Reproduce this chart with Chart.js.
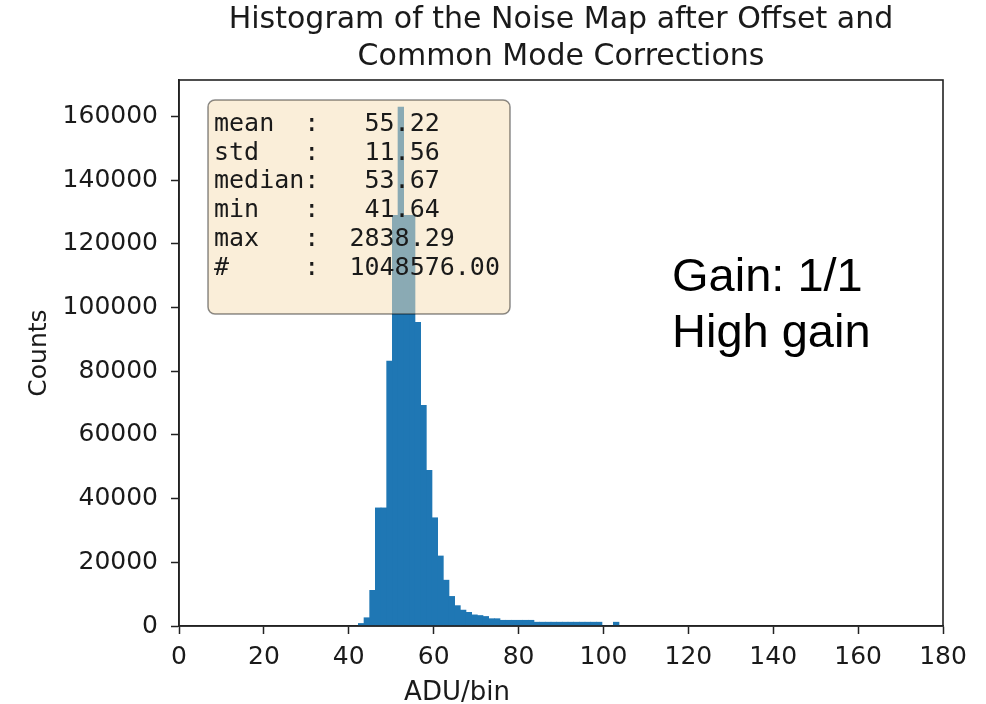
<!DOCTYPE html>
<html lang="en">

<head>
  <meta charset="UTF-8" />
  <title>Noise Map Histogram</title>
  <script src="https://cdn.jsdelivr.net/npm/chart.js"></script>
  <style>
    body {
      margin: 0;
      background: #fff;
    }

    .chart-wrapper {
      width: 986px;
      height: 704px;
    }
  </style>
</head>

<body>
  <div class="chart-wrapper"><canvas id="hist"></canvas></div>

  <script>
    // bin centres (ADU) and counts
    const binCenters = [
      42.92, 44.255, 45.59, 46.925, 48.26, 49.595, 50.93, 52.265, 53.6, 54.935,
      56.27, 57.605, 58.94, 60.275, 61.61, 62.945, 64.28, 65.615, 66.95, 68.285,
      69.62, 70.955, 72.29, 73.625, 74.96, 76.295, 77.63, 78.965, 80.3, 81.635,
      82.97, 84.305, 85.64, 86.975, 88.31, 89.645, 90.98, 92.315, 93.65, 94.985,
      96.32, 97.655, 98.99, 100.325, 101.66, 102.995
    ];
    const binCounts = [
      800, 2600, 11200, 37100, 37100, 83200, 129000, 163000, 129000, 129000,
      95400, 69300, 48900, 34000, 22000, 14400, 9300, 6400, 5000, 4300,
      3500, 3300, 3000, 2300, 2300, 1800, 1800, 1800, 1800, 1800,
      1800, 1200, 1200, 1200, 1200, 1200, 1200, 1200, 1200, 1200,
      1200, 1200, 1200, 0, 0, 1200
    ];
    const xTicks = [0, 20, 40, 60, 80, 100, 120, 140, 160, 180];
    const yTicks = [0, 20000, 40000, 60000, 80000, 100000, 120000, 140000, 160000];
    const titleLines = ["Histogram of the Noise Map after Offset and", "Common Mode Corrections"];
    const statLines = [
      "mean  :   55.22",
      "std   :   11.56",
      "median:   53.67",
      "min   :   41.64",
      "max   :  2838.29",
      "#     :  1048576.00"
    ];
    const gainLines = ["Gain: 1/1", "High gain"];
    const xLabel = "ADU/bin";
    const yLabel = "Counts";

    const textColor = "#1a1a1a";
    const axisFont = { family: "DejaVu Sans", size: 25 };

    // frame, stats box and annotations drawn on top of the bars
    const overlay = {
      id: "overlay",
      afterDatasetsDraw(chart) {
        const { ctx, chartArea: a } = chart;
        ctx.save();

        ctx.strokeStyle = "#222";
        ctx.lineWidth = 1.6;
        ctx.strokeRect(a.left, a.top, a.right - a.left, a.bottom - a.top);

        // stats box
        const bx = a.left + 29, by = a.top + 20;
        ctx.beginPath();
        ctx.roundRect(bx, by, 302, 214, 7);
        ctx.fillStyle = "rgba(245,222,179,0.5)";
        ctx.fill();
        ctx.strokeStyle = "rgba(0,0,0,0.45)";
        ctx.lineWidth = 1.5;
        ctx.stroke();

        ctx.fillStyle = textColor;
        ctx.font = "25px 'DejaVu Sans Mono'";
        ctx.textAlign = "left";
        ctx.textBaseline = "alphabetic";
        statLines.forEach((t, i) => ctx.fillText(t, bx + 6, by + 31 + i * 28.7));

        // gain annotation
        ctx.fillStyle = "#000";
        ctx.font = "47px 'Liberation Sans'";
        gainLines.forEach((t, i) => ctx.fillText(t, 672, 291 + i * 56));

        // x label sits left of the axis centre in the reference
        ctx.fillStyle = textColor;
        ctx.font = "26px 'DejaVu Sans'";
        ctx.textAlign = "center";
        ctx.fillText(xLabel, 457, 700);

        ctx.restore();
      }
    };

    new Chart(document.getElementById("hist"), {
      type: "bar",
      data: {
        datasets: [{
          data: binCenters.map((x, i) => ({ x: x, y: binCounts[i] })),
          backgroundColor: "#1f77b4",
          borderWidth: 0,
          barPercentage: 1,
          categoryPercentage: 1,
          grouped: false
        }]
      },
      options: {
        animation: false,
        responsive: true,
        maintainAspectRatio: false,
        devicePixelRatio: 1,
        layout: { padding: { left: 0, right: 43, top: 0, bottom: 0 } },
        plugins: {
          legend: { display: false },
          tooltip: { enabled: false },
          title: {
            display: true,
            fullSize: false,
            text: titleLines,
            color: textColor,
            font: { family: "DejaVu Sans", size: 30, weight: "normal", lineHeight: 1.23 },
            padding: { top: 1.5, bottom: 4.7 }
          }
        },
        scales: {
          x: {
            type: "linear",
            min: 0,
            max: 180,
            offset: false,
            afterBuildTicks: (s) => { s.ticks = xTicks.map((v) => ({ value: v })); },
            afterFit: (s) => { s.height = 78; },
            grid: { drawOnChartArea: false, offset: false, tickLength: 8, tickWidth: 1.5, tickColor: "#222" },
            border: { display: true, color: "#222", width: 1.6 },
            ticks: {
              maxRotation: 0,
              autoSkip: false,
              padding: 8,
              color: textColor,
              font: axisFont,
              callback: (v) => String(v)
            }
          },
          y: {
            min: 0,
            max: 171500,
            afterBuildTicks: (s) => { s.ticks = yTicks.map((v) => ({ value: v })); },
            afterFit: (s) => { s.width = 179; },
            grid: { drawOnChartArea: false, tickLength: 8, tickWidth: 1.5, tickColor: "#222" },
            border: { display: true, color: "#222", width: 1.6 },
            ticks: {
              autoSkip: false,
              padding: 13,
              color: textColor,
              font: axisFont,
              callback: (v) => String(v)
            },
            title: {
              display: true,
              text: yLabel,
              color: textColor,
              font: { family: "DejaVu Sans", size: 25 },
              padding: { top: 24, bottom: 0 }
            }
          }
        }
      },
      plugins: [overlay]
    });
  </script>
</body>

</html>
